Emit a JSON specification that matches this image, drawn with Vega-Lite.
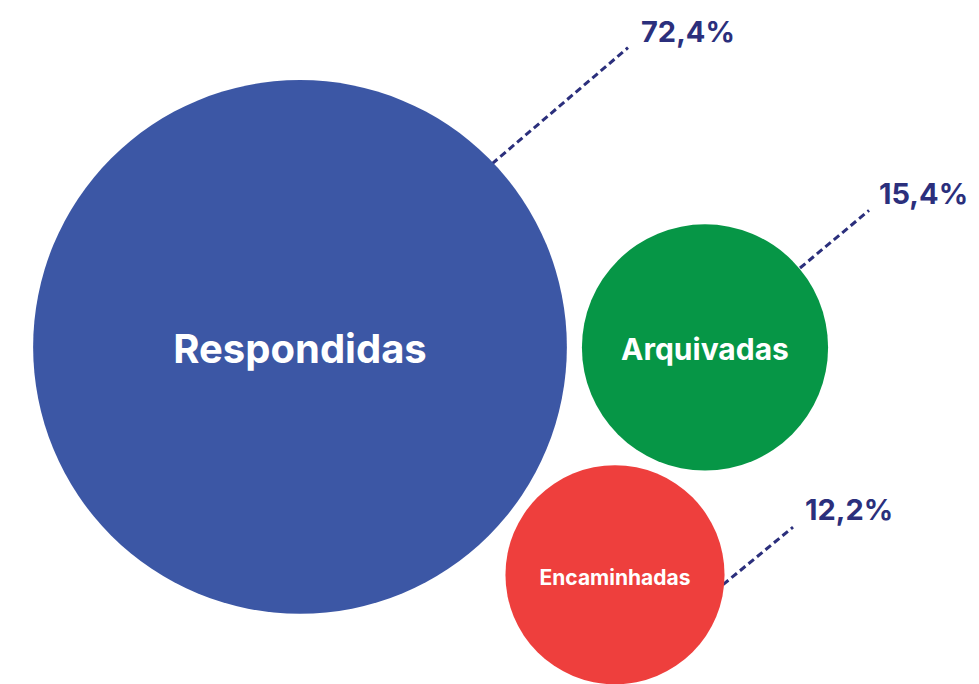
{
  "$schema": "https://vega.github.io/schema/vega-lite/v6.json",
  "autosize": {"type": "fit", "contains": "padding"},
  "width": 979,
  "height": 684,
  "padding": 0,
  "background": "#ffffff",
  "config": {"view": {"stroke": null}},
  "data": {
    "values": [
      {"categoria": "Respondidas", "pct": 72.4, "rotulo": "72,4%", "x": 300, "y": 349.5, "lx1": 492, "ly1": 165, "lx2": 628, "ly2": 48, "tx": 641, "ty": 42},
      {"categoria": "Arquivadas", "pct": 15.4, "rotulo": "15,4%", "x": 705, "y": 350, "lx1": 800, "ly1": 270, "lx2": 869, "ly2": 212, "tx": 879, "ty": 206},
      {"categoria": "Encaminhadas", "pct": 12.2, "rotulo": "12,2%", "x": 615, "y": 579, "lx1": 723, "ly1": 589, "lx2": 793, "ly2": 531, "tx": 805, "ty": 524}
    ]
  },
  "encoding": {
    "x": {"type": "quantitative", "scale": {"domain": [0, 979], "nice": false, "zero": false}, "axis": null},
    "y": {"type": "quantitative", "scale": {"domain": [0, 684], "nice": false, "zero": false, "reverse": true}, "axis": null}
  },
  "layer": [
    {
      "mark": {"type": "rule", "strokeDash": [7, 4], "strokeWidth": 3, "color": "#2B2F7C"},
      "encoding": {
        "x": {"field": "lx1", "type": "quantitative"},
        "y": {"field": "ly1", "type": "quantitative"},
        "x2": {"field": "lx2"},
        "y2": {"field": "ly2"}
      }
    },
    {
      "mark": {"type": "point", "shape": "circle", "filled": true, "opacity": 1, "strokeWidth": 0},
      "encoding": {
        "x": {"field": "x", "type": "quantitative"},
        "y": {"field": "y", "type": "quantitative"},
        "size": {"field": "pct", "type": "quantitative", "scale": {"domain": [0, 100], "range": [0, 393500], "zero": true}, "legend": null},
        "color": {"field": "categoria", "type": "nominal", "scale": {"domain": ["Respondidas", "Arquivadas", "Encaminhadas"], "range": ["#3C57A5", "#069646", "#EE3F3D"]}, "legend": null}
      }
    },
    {
      "mark": {"type": "text", "color": "#ffffff", "font": "Inter", "fontWeight": "bold", "align": "center", "baseline": "middle", "dy": 4},
      "encoding": {
        "x": {"field": "x", "type": "quantitative"},
        "y": {"field": "y", "type": "quantitative"},
        "text": {"field": "categoria"},
        "size": {"field": "categoria", "type": "nominal", "scale": {"type": "ordinal", "domain": ["Respondidas", "Arquivadas", "Encaminhadas"], "range": [40, 30, 21]}, "legend": null}
      }
    },
    {
      "mark": {"type": "text", "color": "#2B2F7C", "font": "Inter", "fontWeight": "bold", "fontSize": 29, "align": "left", "baseline": "alphabetic"},
      "encoding": {
        "x": {"field": "tx", "type": "quantitative"},
        "y": {"field": "ty", "type": "quantitative"},
        "text": {"field": "rotulo"}
      }
    }
  ]
}
